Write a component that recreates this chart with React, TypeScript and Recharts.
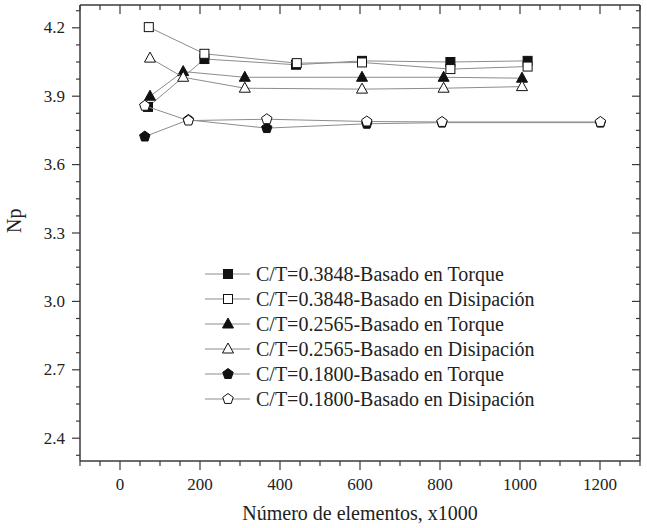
import React from 'react'
import { ScatterChart, Scatter, XAxis, YAxis, Legend } from 'recharts'

// Número de elementos (x1000) and Np for each C/T case
const xTorque3848 = [70, 211, 440, 605, 826, 1019]
const npTorque3848 = [3.853, 4.063, 4.038, 4.055, 4.05, 4.055]
const xDisip3848 = [72, 211, 442, 605, 826, 1019]
const npDisip3848 = [4.203, 4.086, 4.045, 4.048, 4.019, 4.03]
const xTorque2565 = [75, 158, 312, 605, 809, 1005]
const npTorque2565 = [3.9, 4.008, 3.983, 3.983, 3.983, 3.979]
const xDisip2565 = [75, 158, 312, 605, 809, 1005]
const npDisip2565 = [4.067, 3.983, 3.935, 3.931, 3.935, 3.942]
const xTorque1800 = [62, 171, 367, 617, 805, 1201]
const npTorque1800 = [3.723, 3.796, 3.76, 3.779, 3.784, 3.784]
const xDisip1800 = [62, 171, 367, 617, 805, 1201]
const npDisip1800 = [3.858, 3.793, 3.799, 3.789, 3.787, 3.787]

const xLabels = [0, 200, 400, 600, 800, 1000, 1200]
const yLabels = [2.4, 2.7, 3.0, 3.3, 3.6, 3.9, 4.2]

const xTitle = 'Número de elementos, x1000'
const yTitle = 'Np'

type Kind = 'square' | 'triangle' | 'pentagon'

const series: { name: string; xs: number[]; ys: number[]; kind: Kind; filled: boolean }[] = [
  { name: 'C/T=0.3848-Basado en Torque', xs: xTorque3848, ys: npTorque3848, kind: 'square', filled: true },
  { name: 'C/T=0.3848-Basado en Disipación', xs: xDisip3848, ys: npDisip3848, kind: 'square', filled: false },
  { name: 'C/T=0.2565-Basado en Torque', xs: xTorque2565, ys: npTorque2565, kind: 'triangle', filled: true },
  { name: 'C/T=0.2565-Basado en Disipación', xs: xDisip2565, ys: npDisip2565, kind: 'triangle', filled: false },
  { name: 'C/T=0.1800-Basado en Torque', xs: xTorque1800, ys: npTorque1800, kind: 'pentagon', filled: true },
  { name: 'C/T=0.1800-Basado en Disipación', xs: xDisip1800, ys: npDisip1800, kind: 'pentagon', filled: false },
]

const FONT = '"Liberation Serif", "DejaVu Serif", serif'
const AXIS = '#3a3a3a'
const TEXT = '#222'
const LINE = '#8c8c8c'

// minor ticks between the labelled ones
const xTicks: number[] = []
for (let v = -100; v <= 1300; v += 50) xTicks.push(v)
const yTicks: number[] = []
for (let k = -1; k <= 25; k++) yTicks.push(Math.round((2.4 + k * 0.075) * 1000) / 1000)

const isMajorX = (v: number) => xLabels.includes(v)
const isMajorY = (v: number) => yLabels.some((l) => Math.abs(l - v) < 1e-6)

const Marker = ({ cx, cy, kind, filled }: { cx: number; cy: number; kind: Kind; filled: boolean }) => {
  const fill = filled ? '#111' : '#fff'
  const stroke = '#111'
  if (kind === 'square') {
    return <rect x={cx - 4.5} y={cy - 4.5} width={9} height={9} fill={fill} stroke={stroke} strokeWidth={1} />
  }
  if (kind === 'triangle') {
    const pts = `${cx},${cy - 6} ${cx + 5.5},${cy + 4} ${cx - 5.5},${cy + 4}`
    return <polygon points={pts} fill={fill} stroke={stroke} strokeWidth={1} />
  }
  const r = 5.5
  const pts = [0, 1, 2, 3, 4]
    .map((i) => {
      const a = -Math.PI / 2 + (i * 2 * Math.PI) / 5
      return `${cx + r * Math.cos(a)},${cy + r * Math.sin(a)}`
    })
    .join(' ')
  return <polygon points={pts} fill={fill} stroke={stroke} strokeWidth={1} />
}

// bottom ticks point out (down), top ticks point in (also down)
const XTick = (props: any) => {
  const { x, y, payload, side } = props
  const major = isMajorX(payload.value)
  const len = major ? 9 : 5
  return (
    <g>
      <line x1={x} x2={x} y1={y} y2={y + len} stroke={AXIS} strokeWidth={1.2} />
      {side === 'bottom' && major && (
        <text x={x} y={y + 29} textAnchor="middle" fontSize={17} fontFamily={FONT} fill={TEXT}>
          {payload.value}
        </text>
      )}
    </g>
  )
}

// left ticks point out, right ticks point in: both to the left
const YTick = (props: any) => {
  const { x, y, payload, side } = props
  const major = isMajorY(payload.value)
  const len = major ? 8 : 4
  return (
    <g>
      <line x1={x - len} x2={x} y1={y} y2={y} stroke={AXIS} strokeWidth={1.2} />
      {side === 'left' && major && (
        <text x={x - 15} y={y + 5.5} textAnchor="end" fontSize={17} fontFamily={FONT} fill={TEXT}>
          {Number(payload.value).toFixed(1)}
        </text>
      )}
    </g>
  )
}

const LegendBox = () => (
  <svg width={380} height={150} style={{ display: 'block' }}>
    {series.map((s, i) => {
      const cy = 13 + i * 25
      return (
        <g key={s.name}>
          <line x1={5} x2={50} y1={cy} y2={cy} stroke={LINE} strokeWidth={1} />
          <Marker cx={28} cy={cy} kind={s.kind} filled={s.filled} />
          <text x={56} y={cy + 7} fontSize={20} fontFamily={FONT} fill={TEXT}>
            {s.name}
          </text>
        </g>
      )
    })}
  </svg>
)

export default function App() {
  return (
    <div style={{ position: 'absolute', left: 0, top: 0, width: 647, height: 528, background: '#fff' }}>
      <ScatterChart width={647} height={528} margin={{ top: 4, right: 6, bottom: 0, left: 0 }}>
        <XAxis
          type="number"
          dataKey="x"
          domain={[-100, 1300]}
          allowDataOverflow
          ticks={xTicks}
          interval={0}
          height={67}
          tickSize={0}
          tickMargin={0}
          axisLine={{ stroke: AXIS, strokeWidth: 1.5 }}
          tickLine={false}
          tick={(p: any) => <XTick {...p} side="bottom" />}
          label={{ value: xTitle, position: 'insideBottom', offset: 8, fontSize: 20, fontFamily: FONT, fill: TEXT }}
        />
        <XAxis
          xAxisId="top"
          orientation="top"
          type="number"
          dataKey="x"
          domain={[-100, 1300]}
          allowDataOverflow
          ticks={xTicks}
          interval={0}
          height={1}
          tickSize={0}
          tickMargin={0}
          axisLine={{ stroke: AXIS, strokeWidth: 1.5 }}
          tickLine={false}
          tick={(p: any) => <XTick {...p} side="top" />}
        />
        <YAxis
          type="number"
          dataKey="y"
          domain={[2.3, 4.3]}
          allowDataOverflow
          ticks={yTicks}
          interval={0}
          width={80}
          tickSize={0}
          tickMargin={0}
          axisLine={{ stroke: AXIS, strokeWidth: 1.5 }}
          tickLine={false}
          tick={(p: any) => <YTick {...p} side="left" />}
          label={{ value: yTitle, angle: -90, position: 'insideLeft', offset: 14, fontSize: 20, fontFamily: FONT, fill: TEXT }}
        />
        <YAxis
          yAxisId="right"
          orientation="right"
          type="number"
          dataKey="y"
          domain={[2.3, 4.3]}
          allowDataOverflow
          ticks={yTicks}
          interval={0}
          width={1}
          tickSize={0}
          tickMargin={0}
          axisLine={{ stroke: AXIS, strokeWidth: 1.5 }}
          tickLine={false}
          tick={(p: any) => <YTick {...p} side="right" />}
        />
        <Legend
          verticalAlign="middle"
          align="center"
          content={() => <LegendBox />}
          wrapperStyle={{ position: 'absolute', left: 200, top: 261, width: 380, height: 150 }}
        />
        {/* invisible copy bound to the mirrored top/right axes so they get drawn */}
        <Scatter
          xAxisId="top"
          yAxisId="right"
          data={xDisip1800.map((x, i) => ({ x, y: npDisip1800[i] }))}
          legendType="none"
          isAnimationActive={false}
          shape={() => <g />}
        />
        {series.map((s) => (
          <Scatter
            key={s.name}
            name={s.name}
            data={s.xs.map((x, i) => ({ x, y: s.ys[i] }))}
            line={{ stroke: LINE, strokeWidth: 1 }}
            lineType="joint"
            isAnimationActive={false}
            shape={(p: any) => <Marker cx={p.cx} cy={p.cy} kind={s.kind} filled={s.filled} />}
          />
        ))}
      </ScatterChart>
    </div>
  )
}
